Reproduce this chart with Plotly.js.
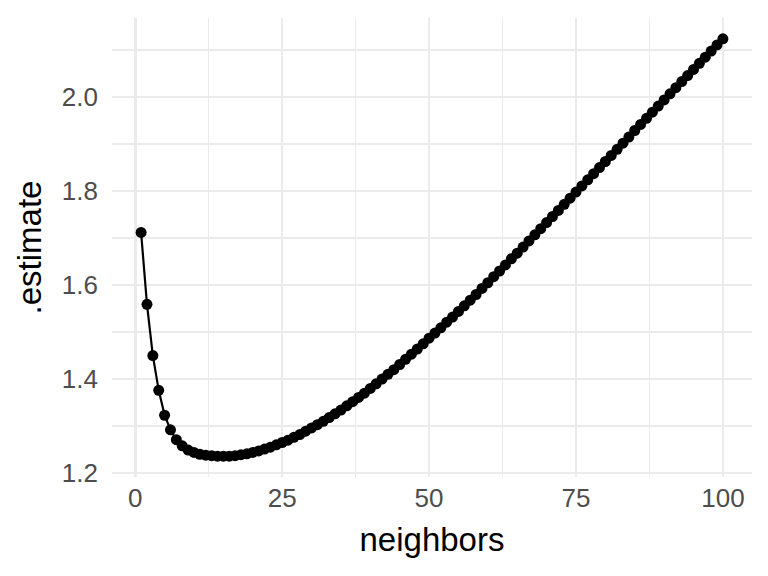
<!DOCTYPE html>
<html>
<head>
<meta charset="utf-8">
<script src="https://cdn.plot.ly/plotly-3.0.1.min.js"></script>
<style>html,body{margin:0;padding:0;background:#fff;}#chart{width:768px;height:576px;}</style>
</head>
<body>
<div id="chart"></div>
<script>
const neighbors = Array.from({length: 100}, (_, i) => i + 1);
const estimate = [
  1.712, 1.559, 1.450, 1.376, 1.323, 1.292, 1.271, 1.258, 1.249, 1.244,
  1.240, 1.238, 1.237, 1.236, 1.236, 1.236, 1.237, 1.239, 1.241, 1.244,
  1.247, 1.251, 1.255, 1.260, 1.265, 1.270, 1.276, 1.282, 1.289, 1.296,
  1.303, 1.310, 1.318, 1.326, 1.334, 1.343, 1.352, 1.361, 1.370, 1.380,
  1.390, 1.400, 1.410, 1.420, 1.431, 1.442, 1.453, 1.464, 1.475, 1.487,
  1.498, 1.509, 1.521, 1.532, 1.544, 1.556, 1.568, 1.580, 1.593, 1.605,
  1.618, 1.630, 1.643, 1.656, 1.668, 1.681, 1.694, 1.707, 1.720, 1.733,
  1.746, 1.759, 1.772, 1.785, 1.798, 1.811, 1.824, 1.837, 1.850, 1.863,
  1.876, 1.889, 1.902, 1.915, 1.929, 1.942, 1.955, 1.968, 1.981, 1.994,
  2.007, 2.020, 2.033, 2.046, 2.059, 2.072, 2.085, 2.098, 2.111, 2.124
];
const xTicks = [0, 25, 50, 75, 100];
const yTicks = [1.2, 1.4, 1.6, 1.8, 2.0];
const yTickText = ["1.2", "1.4", "1.6", "1.8", "2.0"];

const trace = {
  x: neighbors, y: estimate, type: 'scatter', mode: 'lines+markers',
  line: {color: '#000000', width: 2.2},
  marker: {color: '#000000', size: 11},
  hoverinfo: 'skip'
};
const xmin = Math.min(...neighbors), xmax = Math.max(...neighbors);
const ymin = Math.min(...estimate), ymax = Math.max(...estimate);
const xpad = (xmax - xmin) * 0.05, ypad = (ymax - ymin) * 0.05;
const layout = {
  width: 768, height: 576,
  paper_bgcolor: '#ffffff', plot_bgcolor: '#ffffff',
  margin: {l: 112, r: 16, t: 18, b: 99},
  showlegend: false,
  font: {family: 'Liberation Sans, Arial, sans-serif', color: '#4D4D4D', size: 26},
  xaxis: {
    range: [xmin - xpad, xmax + xpad],
    tickvals: xTicks, ticktext: xTicks.map(String),
    showgrid: true, gridcolor: '#EBEBEB', gridwidth: 2.6,
    minor: {dtick: 12.5, tick0: 0, showgrid: true, gridcolor: '#EBEBEB', gridwidth: 1.3},
    zeroline: false, showline: false, ticks: '', ticklabelstandoff: 3,
    tickfont: {size: 26, color: '#4D4D4D'},
    title: {text: 'neighbors', font: {size: 33, color: '#000000'}, standoff: 15}
  },
  yaxis: {
    range: [ymin - ypad, ymax + ypad],
    tickvals: yTicks, ticktext: yTickText,
    showgrid: true, gridcolor: '#EBEBEB', gridwidth: 2.6,
    minor: {dtick: 0.1, tick0: 1.1, showgrid: true, gridcolor: '#EBEBEB', gridwidth: 1.3},
    zeroline: false, showline: false, ticks: '', ticklabelstandoff: 13,
    tickfont: {size: 26, color: '#4D4D4D'},
    title: {text: '.estimate', font: {size: 33, color: '#000000'}, standoff: 10}
  }
};
Plotly.newPlot('chart', [trace], layout, {displayModeBar: false, staticPlot: true});
</script>
</body>
</html>
